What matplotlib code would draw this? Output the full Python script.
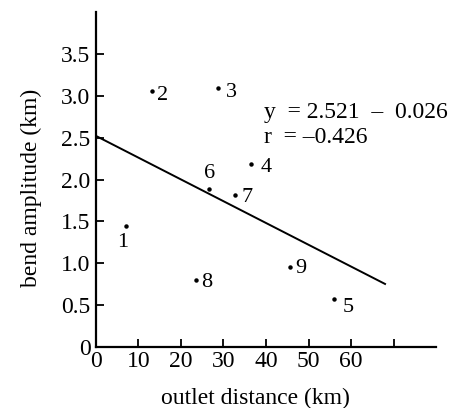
import numpy as np
import matplotlib.pyplot as plt

plt.rcParams['font.family'] = ['Liberation Serif', 'DejaVu Serif']

# bend sites: outlet distance (km) vs bend amplitude (km)
site_ids = ['1', '2', '3', '4', '5', '6', '7', '8', '9']
outlet_km = [7.0, 13.3, 28.6, 36.5, 56.0, 26.5, 32.8, 23.6, 45.7]
amplitude_km = [1.45, 3.06, 3.09, 2.19, 0.57, 1.89, 1.82, 0.80, 0.96]

# fitted regression
intercept = 2.521
slope = -0.026
r_value = -0.426
fit_x = [0, 68]

# label offsets (pixels) relative to each dot
label_offsets = {'1': (-3, -17), '2': (10, -5), '3': (14, -4), '4': (15, -4),
                 '5': (14, -8), '6': (1, 15), '7': (12, -3), '8': (10, -2),
                 '9': (11, -2)}

fs = 17

fig = plt.figure(figsize=(4.59, 4.08), dpi=100)
ax = fig.add_axes([0.209, 0.1495, 0.741, 0.821])

ax.plot(outlet_km, amplitude_km, 'o', color='black', markersize=2.2)
for sid, x, y in zip(site_ids, outlet_km, amplitude_km):
    dx, dy = label_offsets[sid]
    ax.annotate(sid, (x, y), xytext=(dx, dy), textcoords='offset pixels',
                ha='center', va='center', fontsize=16)

fy = [intercept + slope * x for x in fit_x]
ax.plot(fit_x, fy, color='black', linewidth=1.4)

ax.text(39.5, 2.8, f'y  = {intercept:.3f}  \u2013  {abs(slope):.3f}',
        fontsize=fs, va='center', ha='left')
ax.text(39.5, 2.5, f'r  = \u2013{abs(r_value):.3f}', fontsize=fs,
        va='center', ha='left')

ax.set_xlim(0, 80)
ax.set_ylim(0, 4.0)
ax.set_xticks([0, 10, 20, 30, 40, 50, 60, 70])
ax.set_xticklabels(['0', '10', '20', '30', '40', '50', '60', ''])
ax.set_yticks([0, 0.5, 1.0, 1.5, 2.0, 2.5, 3.0, 3.5])
ax.set_yticklabels(['0', '0.5', '1.0', '1.5', '2.0', '2.5', '3.0', '3.5'])
ax.tick_params(direction='in', length=6, width=1.3, labelsize=fs)
ax.tick_params(axis='x', pad=3)
ax.tick_params(axis='y', pad=4)

for side in ['top', 'right']:
    ax.spines[side].set_visible(False)
for side in ['left', 'bottom']:
    ax.spines[side].set_linewidth(1.6)

ax.set_xlabel('outlet distance (km)', fontsize=fs, labelpad=11)
ax.set_ylabel('bend amplitude (km)', fontsize=fs, labelpad=14)
ax.xaxis.label.set_x(0.47)
ax.yaxis.label.set_y(0.475)

fig.savefig('out.png', dpi=100)
